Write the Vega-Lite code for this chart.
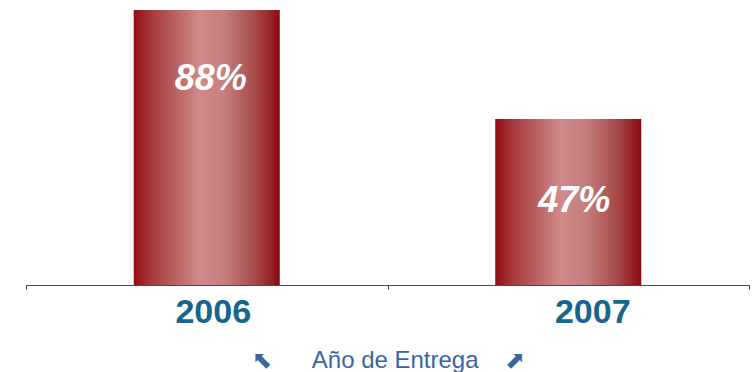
{
  "$schema": "https://vega.github.io/schema/vega-lite/v6.json",
  "width": 723,
  "height": 285,
  "autosize": {"type": "none"},
  "padding": {"left": 26, "right": 4, "top": 0, "bottom": 87},
  "background": "white",
  "config": {"view": {"stroke": null}, "font": "Liberation Sans"},
  "data": {"values": [
    {"year": "2006", "pct": 88, "label": "88%"},
    {"year": "2007", "pct": 47, "label": "47%"}
  ]},
  "encoding": {
    "x": {
      "field": "year", "type": "nominal",
      "scale": {"paddingInner": 0, "paddingOuter": 0},
      "axis": {
        "title": "⬉\u00a0\u00a0\u00a0\u00a0\u00a0\u00a0Año de Entrega\u00a0\u00a0\u00a0\u00a0⬈",
        "titleFont": "Liberation Sans",
        "titleFontSize": 24,
        "titleFontWeight": "normal",
        "titleColor": "#3A66A0",
        "titlePadding": 19,
        "titleX": 362,
        "labelAngle": 0,
        "labelFont": "Liberation Sans",
        "labelFontSize": 34,
        "labelFontWeight": "bold",
        "labelColor": "#17658F",
        "labelPadding": 6,
        "labelOffset": {"condition": {"test": "datum.value === '2006'", "value": 6}, "value": 24},
        "tickBand": "extent",
        "tickSize": 4,
        "tickColor": "#333333",
        "domainColor": "#4A4A4A",
        "domainWidth": 1.2
      }
    }
  },
  "layer": [
    {
      "mark": {
        "type": "bar",
        "width": {"band": 0.404},
        "color": {
          "gradient": "linear", "x1": 0, "x2": 1, "y1": 0, "y2": 0,
          "stops": [
            {"offset": 0, "color": "#930D12"},
            {"offset": 0.12, "color": "#A5393C"},
            {"offset": 0.45, "color": "#D08A8A"},
            {"offset": 0.62, "color": "#C67E7F"},
            {"offset": 0.86, "color": "#A24244"},
            {"offset": 1, "color": "#8A0A0E"}
          ]
        }
      },
      "encoding": {
        "y": {"field": "pct", "type": "quantitative", "scale": {"domain": [-15.44, 91.76], "zero": false, "nice": false}, "axis": null},
        "y2": {"datum": -15.44}
      }
    },
    {
      "transform": [{"filter": "datum.year === '2006'"}],
      "mark": {"type": "text", "font": "Liberation Sans", "fontSize": 36, "fontWeight": "bold", "fontStyle": "italic", "color": "white", "baseline": "middle", "dy": 69, "dx": 4},
      "encoding": {
        "y": {"field": "pct", "type": "quantitative"},
        "text": {"field": "label"}
      }
    },
    {
      "transform": [{"filter": "datum.year === '2007'"}],
      "mark": {"type": "text", "font": "Liberation Sans", "fontSize": 36, "fontWeight": "bold", "fontStyle": "italic", "color": "white", "baseline": "middle", "dy": 82, "dx": 6},
      "encoding": {
        "y": {"field": "pct", "type": "quantitative"},
        "text": {"field": "label"}
      }
    }
  ]
}
